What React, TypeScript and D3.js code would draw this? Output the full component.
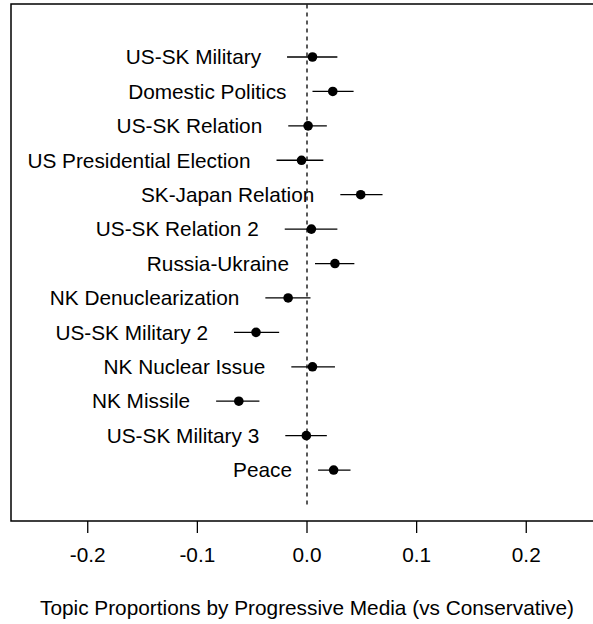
import React from "react";
import * as d3 from "d3";

const topics = [
  "US-SK Military",
  "Domestic Politics",
  "US-SK Relation",
  "US Presidential Election",
  "SK-Japan Relation",
  "US-SK Relation 2",
  "Russia-Ukraine",
  "NK Denuclearization",
  "US-SK Military 2",
  "NK Nuclear Issue",
  "NK Missile",
  "US-SK Military 3",
  "Peace",
];
const estimates = [0.005, 0.0235, 0.001, -0.005, 0.049, 0.004, 0.0255, -0.0172, -0.0465, 0.005, -0.0622, -0.0006, 0.0243];
const lowers = [-0.0182, 0.005, -0.0171, -0.0278, 0.0304, -0.0203, 0.0073, -0.038, -0.0666, -0.0143, -0.0829, -0.0198, 0.0101];
const uppers = [0.0277, 0.0425, 0.0181, 0.0149, 0.0689, 0.0277, 0.0432, 0.0032, -0.0254, 0.0255, -0.0434, 0.0181, 0.0397];
const xTicks = [-0.2, -0.1, 0.0, 0.1, 0.2];
const xTitle = "Topic Proportions by Progressive Media (vs Conservative)";

const W = 593;
const H = 624;
const left = 11;
const top = 4;
const bottom = 521;
const right = 603;
const FONT = "'Liberation Sans', Arial, Helvetica, sans-serif";
const FS = 20.8;

export default function App() {
  const n = topics.length;
  const x = d3.scaleLinear().domain([-0.27, 0.27]).range([left, right]);
  const y = d3.scaleLinear().domain([-0.48, 14.54]).range([bottom, top]);
  const pos = (i: number) => n - i;

  return (
    <svg width={W} height={H} style={{ position: "absolute", left: 0, top: 0, background: "#fff" }}>
      <rect x={0} y={0} width={W} height={H} fill="#fff" />
      {/* dashed zero line */}
      <line x1={x(0)} x2={x(0)} y1={y(0)} y2={top} stroke="#000" strokeWidth={1.3} strokeDasharray="4,4" />
      {topics.map((t, i) => {
        const cy = y(pos(i));
        return (
          <g key={t}>
            <line x1={x(lowers[i])} x2={x(uppers[i])} y1={cy} y2={cy} stroke="#000" strokeWidth={1.3} />
            <circle cx={x(estimates[i])} cy={cy} r={4.8} fill="#000" />
            <text
              x={x(lowers[i]) - 26}
              y={cy}
              dy="0.35em"
              textAnchor="end"
              fontFamily={FONT}
              fontSize={FS}
              fill="#000"
            >
              {t}
            </text>
          </g>
        );
      })}
      {/* box */}
      <path d={`M${right},${top}H${left}V${bottom}H${right}`} fill="none" stroke="#000" strokeWidth={1.5} />
      <line x1={right} x2={right} y1={top} y2={bottom} stroke="#000" strokeWidth={1.5} />
      {/* x axis */}
      {xTicks.map((v) => (
        <g key={v}>
          <line x1={x(v)} x2={x(v)} y1={bottom} y2={bottom + 12} stroke="#000" strokeWidth={1.3} />
          <text x={x(v)} y={562} textAnchor="middle" fontFamily={FONT} fontSize={FS} fill="#000">
            {d3.format(".1f")(v).replace("−", "-")}
          </text>
        </g>
      ))}
      <text x={x(0)} y={615} textAnchor="middle" fontFamily={FONT} fontSize={FS} fill="#000">
        {xTitle}
      </text>
    </svg>
  );
}
